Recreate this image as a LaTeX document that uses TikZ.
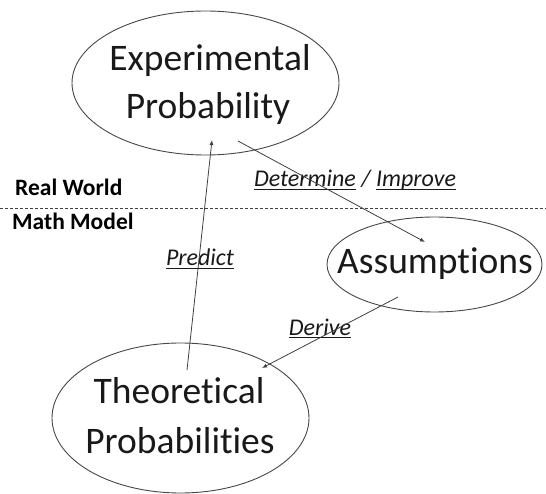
\documentclass[tikz,border=0pt]{standalone}
\usepackage{fontspec}
\setmainfont{Carlito}[Ligatures={NoCommon}]
\usetikzlibrary{arrows.meta,calc,shapes.geometric}
\newcommand\myul[1]{\setbox0\hbox{#1}\rlap{\rule[-3.2pt]{\wd0}{1.5pt}}\copy0\relax}
\begin{document}
\begin{tikzpicture}[x=1pt,y=-1pt,
  oval/.style={draw=black!72, line width=0.9pt, ellipse, inner sep=0pt},
  big/.style={font=\fontsize{37.5}{46}\selectfont, text=black!90, anchor=base, inner sep=0pt},
  lbl/.style={font=\fontsize{23.5}{27}\selectfont\bfseries, text=black, anchor=base west, inner sep=0pt},
  verb/.style={font=\fontsize{24}{28}\selectfont\itshape, text=black!90, anchor=base, inner sep=0pt},
  conn/.style={draw=black!75, line width=0.8pt, -{Latex[length=5pt,width=4pt]}},
  sep/.style={draw=black!75, line width=0.8pt, dash pattern=on 3pt off 2pt}
]
\useasboundingbox (0,0) rectangle (546,494);
% ellipses
\node[oval, minimum width=267pt, minimum height=144pt] (exp) at (205.5,83) {};
\node[oval, minimum width=215pt, minimum height=95pt] (ass) at (434.5,264.5) {};
\node[oval, minimum width=257pt, minimum height=150pt] (theo) at (180.5,418) {};
% texts
\node[big] (expA) at (210,71) {Experimental};
\node[big] (expB) at (208,119) {Probability};
\node[big] (assT) at (435,273) {Assumptions};
\node[big] (theoA) at (179,403) {Theoretical};
\node[big] (theoB) at (180,453) {Probabilities};
% separator
\coordinate (dl) at (0,208);
\coordinate (dr) at (546,208);
\draw[sep] (dl) -- (dr);
\node[lbl] (rw) at (15,196) {Real World};
\node[lbl] (mm) at (12,230) {Math Model};
% verbs
\node[verb] (det) at (355,187) {\myul{Determine} / \myul{Improve}};
\node[verb] (pred) at (200,266) {\myul{Predict}};
\node[verb] (der) at (320,335) {\myul{Derive}};
% connectors
\draw[conn] ($(theo.center)+(6.5,-48)$) -- ($(exp.center)+(6.5,57)$);
\draw[conn] ($(exp.center)+(32.5,58)$) -- ($(ass.center)+(-9.5,-22.5)$);
\draw[conn] ($(ass.center)+(-36.5,32.5)$) -- ($(theo.center)+(81.5,-50)$);
\end{tikzpicture}
\end{document}
